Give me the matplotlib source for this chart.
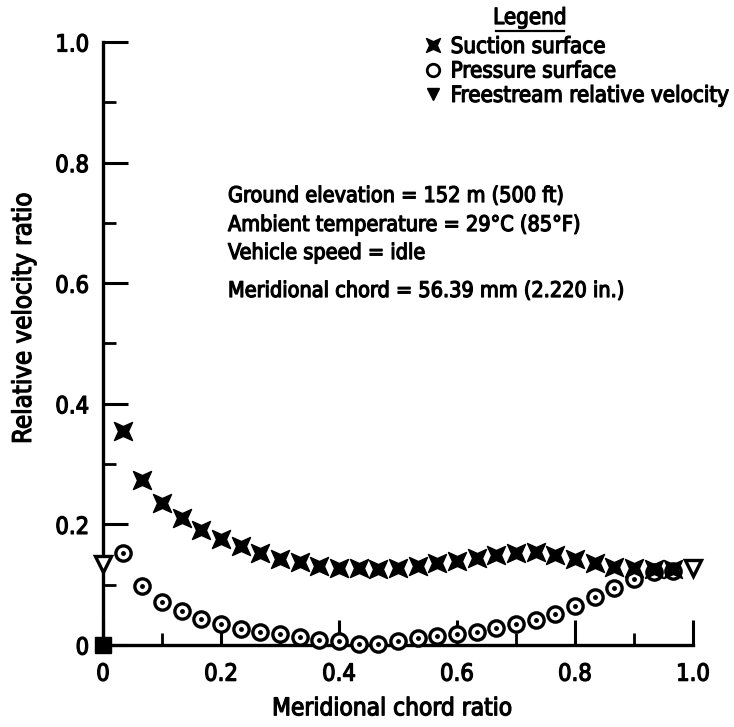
import matplotlib
matplotlib.use("Agg")
import matplotlib.pyplot as plt
import matplotlib.patheffects as pe
from matplotlib.path import Path
from matplotlib.lines import Line2D
from matplotlib.ticker import MultipleLocator

plt.rcParams['font.family'] = ['DejaVu Sans']
plt.rcParams['font.stretch'] = 'condensed'

# slightly heavier strokes for all lettering
heavy = [pe.withStroke(linewidth=0.9, foreground='black')]

# Meridional chord stations (every 1/30 of the chord)
stations = [i / 30 for i in range(1, 30)]

suction = [0.355, 0.274, 0.235, 0.211, 0.190, 0.176, 0.164, 0.153, 0.143, 0.137,
           0.131, 0.128, 0.127, 0.126, 0.127, 0.131, 0.136, 0.140, 0.144, 0.149,
           0.153, 0.155, 0.149, 0.143, 0.136, 0.129, 0.128, 0.126, 0.126]

pressure = [0.152, 0.098, 0.072, 0.057, 0.043, 0.035, 0.026, 0.021, 0.019, 0.013,
            0.009, 0.006, 0.002, 0.002, 0.006, 0.011, 0.015, 0.019, 0.022, 0.028,
            0.034, 0.041, 0.051, 0.065, 0.080, 0.095, 0.110, 0.121, 0.122]

freestream_x = [0.0, 1.0]
freestream_y = [0.135, 0.127]

stagnation_x = [0.0]
stagnation_y = [0.0]

tick_values = [0, 0.2, 0.4, 0.6, 0.8, 1.0]
tick_labels = ['0', '0.2', '0.4', '0.6', '0.8', '1.0']

notes = ["Ground elevation = 152 m (500 ft)",
         "Ambient temperature = 29\u00b0C (85\u00b0F)",
         "Vehicle speed = idle",
         "Meridional chord = 56.39 mm (2.220 in.)"]

# bow-tie marker for the suction surface
verts = [(-1, -1), (0, -0.55), (1, -1), (0.55, 0), (1, 1), (0, 0.55), (-1, 1), (-0.55, 0), (-1, -1)]
codes = [Path.MOVETO] + [Path.LINETO] * 7 + [Path.CLOSEPOLY]
bowtie = Path(verts, codes)

W, H = 734, 727
fig = plt.figure(figsize=(W / 100, H / 100), dpi=100)
ax = fig.add_axes([103 / W, 1 - 645 / H, 590 / W, 603 / H])

ax.plot(stations, suction, linestyle='none', marker=bowtie, markersize=13,
        color='black', clip_on=False, zorder=4)
ax.plot(stations, pressure, linestyle='none', marker='o', markersize=11,
        markerfacecolor='white', markeredgecolor='black', markeredgewidth=2.4,
        clip_on=False, zorder=3)
ax.plot(stations, pressure, linestyle='none', marker='o', markersize=2.5,
        color='black', clip_on=False, zorder=3)
ax.plot(freestream_x, freestream_y, linestyle='none', marker='v', markersize=11,
        markerfacecolor='white', markeredgecolor='black', markeredgewidth=2.4,
        clip_on=False, zorder=4)
ax.plot(stagnation_x, stagnation_y, linestyle='none', marker='s', markersize=11,
        color='black', clip_on=False, zorder=5)

ax.set_xlim(0, 1.0)
ax.set_ylim(0, 1.0)
for s in ['top', 'right']:
    ax.spines[s].set_visible(False)
for s in ['left', 'bottom']:
    ax.spines[s].set_linewidth(2.4)

ax.xaxis.set_minor_locator(MultipleLocator(0.1))
ax.yaxis.set_minor_locator(MultipleLocator(0.1))
ax.set_xticks(tick_values)
ax.set_xticklabels(tick_labels)
ax.set_yticks(tick_values)
ax.set_yticklabels(tick_labels)
ax.tick_params(which='major', direction='in', length=18, width=2.2, labelsize=17)
ax.tick_params(axis='x', which='major', pad=12)
ax.tick_params(axis='y', which='major', pad=10)
ax.tick_params(which='minor', direction='in', length=9, width=2.0)
for lab in ax.get_xticklabels() + ax.get_yticklabels():
    lab.set_path_effects(heavy)

xl = ax.set_xlabel("Meridional chord ratio", fontsize=17.5)
ax.xaxis.set_label_coords(0.49, -0.085)
xl.set_path_effects(heavy)
yl = ax.set_ylabel("Relative velocity ratio", fontsize=18.5)
ax.yaxis.set_label_coords(-0.112, 0.542)
yl.set_path_effects(heavy)

for txt, yp in zip(notes, [196, 225, 253, 291]):
    fig.text(228 / W, 1 - yp / H, txt, fontsize=15.5, va='center', ha='left',
             path_effects=heavy)

handles = [
    Line2D([], [], linestyle='none', marker=bowtie, markersize=10, color='black'),
    Line2D([], [], linestyle='none', marker='o', markersize=9, markerfacecolor='white',
           markeredgecolor='black', markeredgewidth=2),
    Line2D([], [], linestyle='none', marker='v', markersize=9, color='black'),
]
labels = ["Suction surface", "Pressure surface", "Freestream relative velocity"]
leg = ax.legend(handles, labels, loc='upper left', bbox_to_anchor=(424 / W, 1 - 37 / H),
                bbox_transform=fig.transFigure, frameon=False, fontsize=16,
                handlelength=0.8, handletextpad=0.4, labelspacing=0.2, borderpad=0,
                borderaxespad=0)
for t in leg.get_texts():
    t.set_path_effects(heavy)

fig.text(530 / W, 1 - 18 / H, "Legend", fontsize=16, ha='center', va='center',
         path_effects=heavy)
fig.add_artist(Line2D([496 / W, 564 / W], [1 - 31 / H, 1 - 31 / H],
                      transform=fig.transFigure, color='black', linewidth=1.6))

fig.savefig("out.png", dpi=100)
